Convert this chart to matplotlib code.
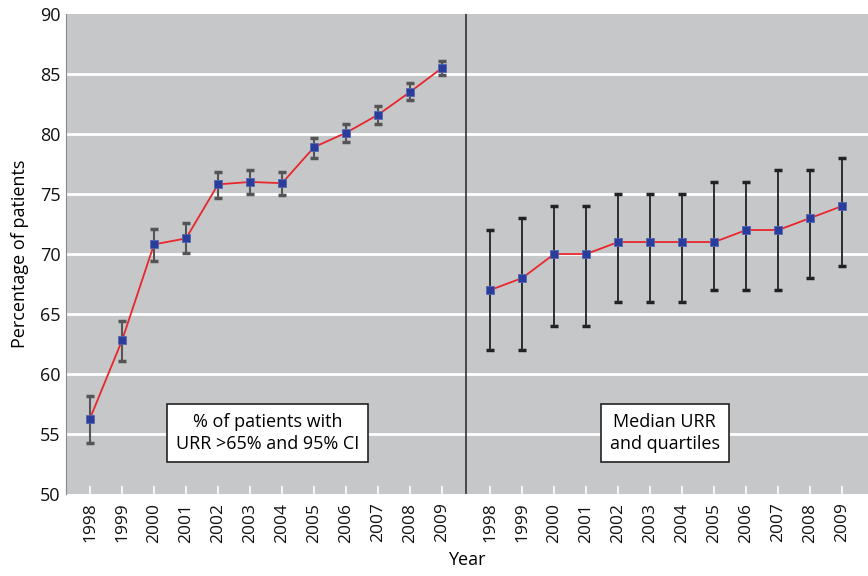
import matplotlib.pyplot as plt
import numpy as np

plt.rcParams['font.family'] = ['Open Sans', 'DejaVu Sans']

years = ['1998', '1999', '2000', '2001', '2002', '2003',
         '2004', '2005', '2006', '2007', '2008', '2009']

# % of patients with URR > 65% and 95% CI
pct = [56.3, 62.8, 70.8, 71.3, 75.8, 76.0, 75.9, 78.9, 80.1, 81.6, 83.5, 85.5]
ci_low = [54.3, 61.1, 69.4, 70.1, 74.7, 75.0, 74.9, 78.0, 79.3, 80.8, 82.8, 84.9]
ci_high = [58.2, 64.4, 72.1, 72.6, 76.8, 77.0, 76.8, 79.7, 80.8, 82.3, 84.2, 86.1]

# Median URR and quartiles
median = [67, 68, 70, 70, 71, 71, 71, 71, 72, 72, 73, 74]
q1 = [62, 62, 64, 64, 66, 66, 66, 67, 67, 67, 68, 69]
q3 = [72, 73, 74, 74, 75, 75, 75, 76, 76, 77, 77, 78]

fig = plt.figure(figsize=(8.68, 5.76), dpi=100)
ax = fig.add_axes([0.076, 0.142, 0.924, 0.834])
ax.set_facecolor('#c6c7c9')

n = len(years)
x_left = np.arange(n)
x_right = np.arange(n) + 12.5

ax.set_ylim(50, 90)
ax.set_xlim(-0.75, 24.3)
ax.set_yticks(np.arange(50, 91, 5))
for y in range(55, 90, 5):
    ax.axhline(y, color='white', lw=2, zorder=1)

# left panel
pct = np.array(pct)
err_l = [pct - np.array(ci_low), np.array(ci_high) - pct]
ax.errorbar(x_left, pct, yerr=err_l, fmt='none', ecolor='#555555', elinewidth=1.5,
            capsize=3, capthick=2.5, zorder=3)
ax.plot(x_left, pct, color='#e8262b', lw=1.3, zorder=4)
ax.plot(x_left, pct, 's', color='#2b3d9b', ms=6, mec='#5566b0', mew=0.6, zorder=5)

# right panel
median = np.array(median)
err_r = [median - np.array(q1), np.array(q3) - median]
ax.errorbar(x_right, median, yerr=err_r, fmt='none', ecolor='#222222', elinewidth=1.3,
            capsize=3, capthick=2.5, zorder=3)
ax.plot(x_right, median, color='#e8262b', lw=1.3, zorder=4)
ax.plot(x_right, median, 's', color='#2b3d9b', ms=6, mec='#5566b0', mew=0.6, zorder=5)

ax.axvline(11.75, color='#333333', lw=1.2, zorder=2)

ax.set_xticks(list(x_left) + list(x_right))
ax.set_xticklabels(years + years, rotation=90, fontsize=12.5)
ax.tick_params(axis='x', direction='in', colors='white', length=6, width=1.2,
               labelcolor='#111111', pad=6)
ax.tick_params(axis='y', length=0, labelsize=13, labelcolor='#111111', pad=4)

for s in ['top', 'right', 'bottom']:
    ax.spines[s].set_visible(False)
ax.spines['left'].set_color('#888888')

box = dict(boxstyle='square,pad=0.5', fc='white', ec='#222222', lw=1.2)
ax.text(5.55, 55.1, '% of patients with\nURR >65% and 95% CI', ha='center', va='center',
        fontsize=13, bbox=box, linespacing=1.3, zorder=6)
ax.text(17.95, 55.1, 'Median URR\nand quartiles', ha='center', va='center',
        fontsize=13, bbox=box, linespacing=1.3, zorder=6)

ax.set_ylabel('Percentage of patients', fontsize=13, labelpad=8)
ax.set_xlabel('Year', fontsize=13, labelpad=6)

fig.savefig('out.png', dpi=100)
